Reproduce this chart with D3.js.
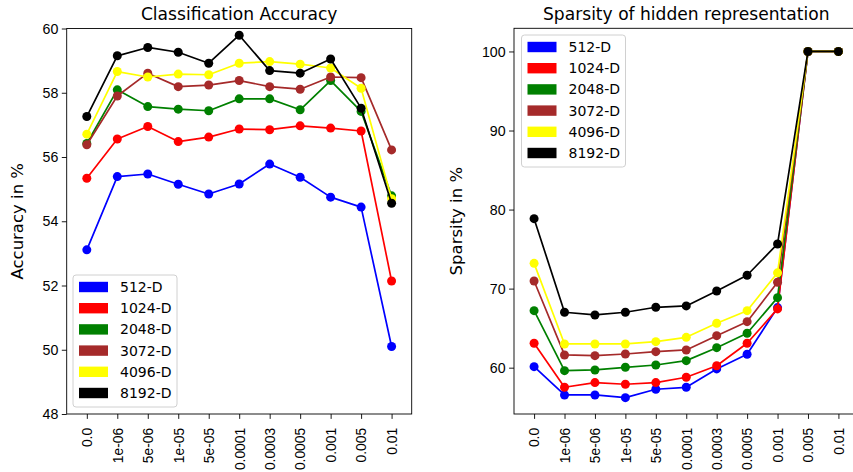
<!DOCTYPE html>
<html>
<head>
<meta charset="utf-8">
<script src="https://cdn.jsdelivr.net/npm/d3@7"></script>
<style>
  html, body { margin: 0; padding: 0; background: #fff; }
  svg { display: block; font-family: "DejaVu Sans", sans-serif; }
</style>
</head>
<body>
<svg id="chart" width="853" height="472"></svg>
<script>
// ---------- data ----------
const categories = ["0.0", "1e-06", "5e-06", "1e-05", "5e-05", "0.0001", "0.0003", "0.0005", "0.001", "0.005", "0.01"];
const seriesNames = ["512-D", "1024-D", "2048-D", "3072-D", "4096-D", "8192-D"];
const seriesColors = ["#0000ff", "#ff0000", "#008000", "#a52a2a", "#ffff00", "#000000"];

// Classification accuracy (%)
const acc512  = [53.11, 55.39, 55.47, 55.15, 54.85, 55.16, 55.78, 55.37, 54.75, 54.44, 50.10];
const acc1024 = [55.34, 56.56, 56.95, 56.48, 56.62, 56.87, 56.85, 56.97, 56.90, 56.81, 52.14];
const acc2048 = [56.42, 58.09, 57.57, 57.49, 57.44, 57.81, 57.81, 57.47, 58.38, 57.42, 54.79];
const acc3072 = [56.38, 57.90, 58.61, 58.19, 58.24, 58.38, 58.19, 58.11, 58.49, 58.47, 56.22];
const acc4096 = [56.71, 58.66, 58.49, 58.58, 58.56, 58.92, 58.97, 58.89, 58.77, 58.14, 54.70];
const acc8192 = [57.26, 59.15, 59.41, 59.26, 58.92, 59.79, 58.69, 58.61, 59.05, 57.52, 54.56];

// Sparsity of hidden representation (%)
const sp512  = [60.13, 56.55, 56.55, 56.21, 57.27, 57.52, 59.84, 61.70, 67.60, 100, 100];
const sp1024 = [63.09, 57.52, 58.11, 57.90, 58.11, 58.79, 60.25, 63.09, 67.43, 100, 100];
const sp2048 = [67.21, 59.62, 59.71, 60.05, 60.34, 60.89, 62.53, 64.35, 68.86, 100, 100];
const sp3072 = [70.97, 61.61, 61.52, 61.73, 62.03, 62.24, 64.05, 65.82, 70.80, 100, 100];
const sp4096 = [73.20, 63.00, 63.00, 63.00, 63.29, 63.84, 65.62, 67.21, 72.00, 100, 100];
const sp8192 = [78.85, 67.01, 66.67, 67.01, 67.64, 67.81, 69.70, 71.69, 75.65, 100, 100];

const accTicks = [48, 50, 52, 54, 56, 58, 60];
const spTicks = [60, 70, 80, 90, 100];

const accSeries = [acc512, acc1024, acc2048, acc3072, acc4096, acc8192];
const spSeries = [sp512, sp1024, sp2048, sp3072, sp4096, sp8192];

// ---------- drawing ----------
const svg = d3.select("#chart");

function panel(opts) {
  const { left, right, top, bottom, domain, ticks, series, title, ylabel, ylabelX, legendX, legendY } = opts;
  const g = svg.append("g");

  const x = d3.scalePoint().domain(categories).range([left, right]).padding(0.66);
  const y = d3.scaleLinear().domain(domain).range([bottom, top]);

  const clipId = "clip" + Math.round(left);
  svg.append("defs").append("clipPath").attr("id", clipId)
    .append("rect").attr("x", left).attr("y", top).attr("width", right - left).attr("height", bottom - top);

  const plot = g.append("g").attr("clip-path", `url(#${clipId})`);
  const line = d3.line().x((d, i) => x(categories[i])).y(d => y(d));

  series.forEach((s, k) => {
    plot.append("path").datum(s)
      .attr("d", line)
      .attr("fill", "none")
      .attr("stroke", seriesColors[k])
      .attr("stroke-width", 1.7)
      .attr("stroke-linejoin", "round");
    plot.selectAll(null).data(s).enter().append("circle")
      .attr("cx", (d, i) => x(categories[i]))
      .attr("cy", d => y(d))
      .attr("r", 4.5)
      .attr("fill", seriesColors[k]);
  });

  // x axis
  const xAxis = d3.axisBottom(x).tickSize(4.9).tickPadding(3.5);
  const gx = g.append("g").attr("transform", `translate(0,${bottom})`).call(xAxis);
  gx.select(".domain").remove();
  gx.selectAll("line").attr("stroke", "#000").attr("stroke-width", 0.9);
  gx.selectAll(".tick text")
    .attr("font-size", 13.8)
    .attr("fill", "#000")
    .attr("transform", "rotate(-90)")
    .attr("x", -(4.9 + 3.5 + 5.5))
    .attr("y", 0)
    .attr("dy", "0.35em")
    .style("text-anchor", "end");

  // y axis
  const yAxis = d3.axisLeft(y).tickValues(ticks).tickSize(4.9).tickPadding(3.5).tickFormat(d3.format("d"));
  const gy = g.append("g").attr("transform", `translate(${left},0)`).call(yAxis);
  gy.select(".domain").remove();
  gy.selectAll("line").attr("stroke", "#000").attr("stroke-width", 0.9);
  gy.selectAll("text").attr("font-size", 14.2).attr("fill", "#000");

  // frame
  g.append("rect")
    .attr("x", left).attr("y", top)
    .attr("width", right - left).attr("height", bottom - top)
    .attr("fill", "none").attr("stroke", "#000").attr("stroke-width", 0.9);

  // title
  g.append("text")
    .attr("x", (left + right) / 2).attr("y", 19.5)
    .attr("text-anchor", "middle").attr("font-size", 17.1).attr("fill", "#000")
    .text(title);

  // y label
  g.append("text")
    .attr("transform", `translate(${ylabelX},${(top + bottom) / 2}) rotate(-90)`)
    .attr("text-anchor", "middle").attr("font-size", 16.5).attr("fill", "#000")
    .text(ylabel);

  // legend
  const rowH = 21.2;
  const lw = 104, lh = 132;
  const lg = g.append("g").attr("transform", `translate(${legendX},${legendY})`);
  lg.append("rect").attr("x", 0).attr("y", 0).attr("width", lw).attr("height", lh)
    .attr("rx", 3).attr("fill", "#fff").attr("fill-opacity", 0.8)
    .attr("stroke", "#d0d0d0").attr("stroke-width", 1);
  seriesNames.forEach((n, k) => {
    const cy = 12 + k * rowH;
    lg.append("rect").attr("x", 6).attr("y", cy - 5.2).attr("width", 29).attr("height", 10.4)
      .attr("fill", seriesColors[k]);
    lg.append("text").attr("x", 47).attr("y", cy + 5).attr("font-size", 14).attr("fill", "#000").text(n);
  });
}

panel({
  left: 66.7, right: 411.7, top: 28.5, bottom: 414,
  domain: [48, 60], ticks: accTicks, series: accSeries,
  title: "Classification Accuracy", ylabel: "Accuracy in %", ylabelX: 23,
  legendX: 73, legendY: 275
});

panel({
  left: 514, right: 858.5, top: 28.3, bottom: 414,
  domain: [54.14, 102.93], ticks: spTicks, series: spSeries,
  title: "Sparsity of hidden representation", ylabel: "Sparsity in %", ylabelX: 462,
  legendX: 521.5, legendY: 35
});
</script>
</body>
</html>
